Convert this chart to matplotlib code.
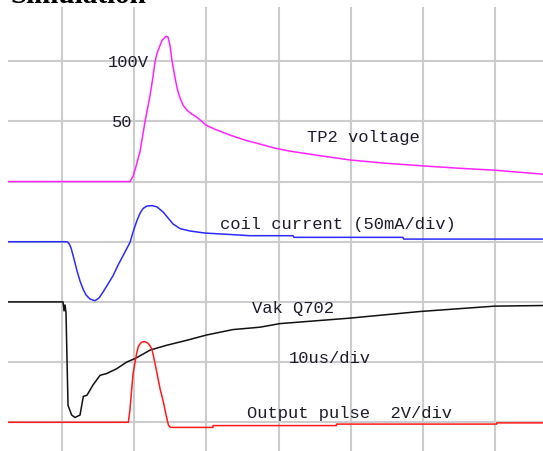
from matplotlib import pyplot as plt

# time axis: 10us/div, t=0 at the first vertical grid line
# TP2 voltage (V), 50V/div, zero at div 4
tp2_t = [-7.5, 9.42, 9.84, 10.25, 10.81, 11.5, 12.2, 12.61, 12.89, 13.16, 13.58, 13.86,
         14.13, 14.41, 14.69, 14.97, 15.24, 15.66, 15.94, 16.35, 16.77, 17.32, 18.0,
         18.7, 19.95, 21.2, 23.3, 25.4, 27.0, 29.5, 31.6, 35.7, 39.9, 44.8, 50.0,
         55.1, 60.0, 66.6]
tp2_v = [0, 0, 4.4, 12.7, 25.2, 50.1, 71.7, 87.5, 99.9, 106.6, 113.2, 117.4,
         119.0, 120.7, 119.9, 112.4, 99.9, 85.8, 77.5, 69.2, 63.4, 59.2, 55.9,
         53.4, 46.8, 43.4, 38.5, 34.3, 31.8, 27.7, 25.2, 21.5, 17.9, 15.2, 13.0,
         11.0, 9.4, 6.1]

# coil current (mA), 50mA/div, zero at div 3
coil_t = [-7.5, 0.69, 0.97, 1.25, 1.66, 2.08, 2.49, 2.91, 3.33, 3.88, 4.57, 5.13, 5.68,
          6.37, 7.07, 7.76, 8.45, 9.01, 9.42, 9.84, 10.35, 10.81, 11.22, 11.78, 12.47,
          13.16, 13.99, 14.69, 15.38, 16.35, 17.73, 19.81, 23.3, 26.05, 32.0, 32.1,
          47.2, 47.3, 66.6]
coil_ma = [0, 0, -1.5, -5.2, -14.3, -24.3, -32.6, -39.3, -44.3, -47.6, -49.0, -46.7, -41.8,
           -35.1, -28.2, -19.4, -11.6, -5.2, -0.5, 8.1, 17.2, 23.8, 27.6, 29.7, 30.0,
           28.9, 24.7, 19.7, 14.7, 10.9, 8.9, 7.2, 6.0, 5.0, 5.0, 3.65,
           3.65, 2.2, 2.2]

# Vak Q702 (div), zero at div 2
vak_t = [-7.5, 0.14, 0.28, 0.42, 0.55, 0.69, 0.83, 1.34, 1.8, 2.49, 2.95, 3.46, 4.29,
         5.26, 6.18, 7.57, 8.95, 10.3, 12.2, 14.5, 17.2, 20.0, 23.65, 27.4, 30.2,
         39.8, 49.5, 59.9, 66.6]
vak_div = [0, 0, -0.15, -0.05, -0.18, -0.94, -1.72, -1.88, -1.92, -1.88, -1.57, -1.55, -1.38,
           -1.22, -1.19, -1.11, -1.0, -0.93, -0.8, -0.72, -0.64, -0.55, -0.46, -0.42, -0.36,
           -0.27, -0.16, -0.07, -0.06]

# output pulse (V), 2V/div, zero at div 0
out_t = [-7.5, 9.18, 9.42, 9.65, 9.84, 10.12, 10.35, 10.57, 10.81, 11.08, 11.5, 11.92,
         12.19, 12.43, 12.75, 13.12, 13.58, 14.04, 14.41, 14.73, 14.97, 15.24,
         20.9, 20.9, 38.0, 38.0, 60.2, 60.2, 66.6]
out_v = [0, 0, 0.44, 1.11, 1.61, 2.01, 2.31, 2.51, 2.61, 2.67, 2.68, 2.62,
         2.54, 2.44, 2.11, 1.67, 1.11, 0.67, 0.24, -0.09, -0.16, -0.17,
         -0.17, -0.11, -0.11, -0.06, -0.06, -0.02, -0.02]

fig = plt.figure(figsize=(5.43, 4.52), dpi=100)
ax = fig.add_axes([8 / 543, 0, 535 / 543, 444 / 452])

ax.plot(tp2_t, [4 + v / 50 for v in tp2_v], color='#ff22ff', lw=1.1)
ax.plot(coil_t, [3 + i / 50 for i in coil_ma], color='#2b2bff', lw=1.1)
ax.plot(vak_t, [2 + d for d in vak_div], color='#111111', lw=1.1)
ax.plot(out_t, [v / 2 for v in out_v], color='#ff1a1a', lw=1.1)

ax.set_xlim(-7.48, 66.6)
ax.set_ylim(-0.477, 6.9)
ax.set_xticks(range(0, 61, 10))
ax.set_yticks(range(0, 7))
ax.grid(True, color='#cccccc', lw=1.5)
ax.set_axisbelow(True)
ax.tick_params(length=0, labelbottom=False, labelleft=False)
for s in ax.spines.values():
    s.set_visible(False)

txt = dict(family='Liberation Mono', fontsize=12.3, color='#1c1c2c', va='baseline')
ax.text(6.37, 5.92, '100V', **txt)
ax.text(6.93, 4.93, '50', **txt)
ax.text(33.9, 4.68, 'TP2 voltage', **txt)
ax.text(21.9, 3.23, 'coil current (50mA/div)', **txt)
ax.text(26.3, 1.83, 'Vak Q702', **txt)
ax.text(31.45, 1.0, '10us/div', **txt)
ax.text(25.6, 0.083, 'Output pulse  2V/div', **txt)

fig.text(10 / 543, 1 - 3 / 452, 'Simulation', family='Liberation Serif',
         fontweight='bold', fontsize=21, va='baseline', ha='left')

fig.savefig('out.png', dpi=100)
